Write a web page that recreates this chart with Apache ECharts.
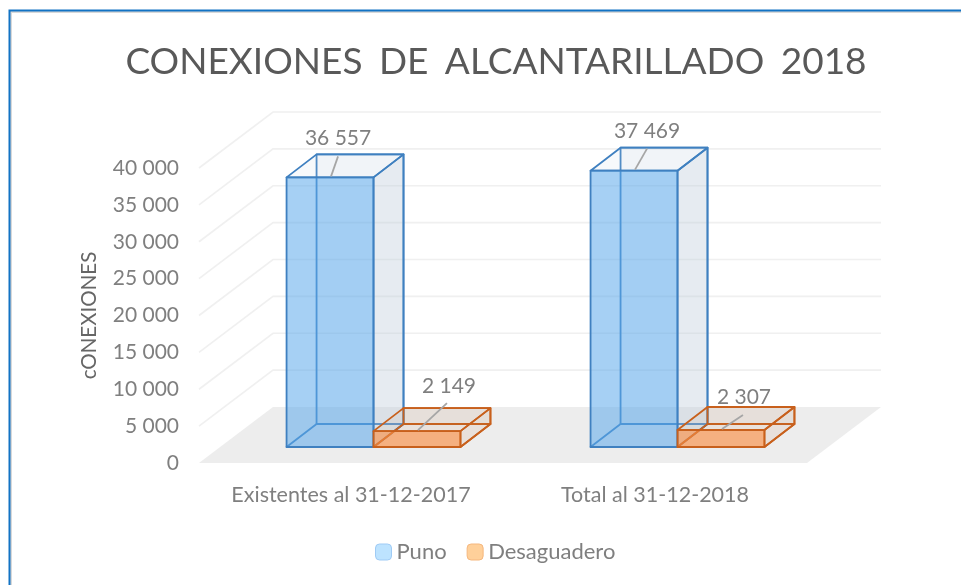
<!DOCTYPE html>
<html>
<head>
<meta charset="utf-8">
<style>
  html, body { margin: 0; padding: 0; background: #fff; }
  #chart { width: 961px; height: 585px; }
</style>
<script src="https://cdn.jsdelivr.net/npm/echarts@6/dist/echarts.min.js"></script>
</head>
<body>
<div id="chart"></div>
<script>
const categories = ['Existentes al 31-12-2017', 'Total al 31-12-2018'];
const puno = [36557, 37469];
const desaguadero = [2149, 2307];
const ticks = [0, 5000, 10000, 15000, 20000, 25000, 30000, 35000, 40000];

// depth of the fake 3d box
const WALL_DX = 74, WALL_DY = 56;
const PLANE_DX = 22.5, PLANE_DY = 16;
const BAR_DX = 30, BAR_DY = 23;
const BAR_WIDTH = 0.286; // share of a category band

// hand placed data labels, offset from top middle of the bar: [leader x, leader y, text x, text y]
const punoLabels = [[8, -21, 8, -39], [13, -22, 13, -39]];
const desaguaderoLabels = [[30, -28, 32, -45], [22, -15, 23, -33]];

const FONT = 'Lato, Carlito, sans-serif';
const GREY = '#7f7f7f';

function fmt(v) {
  return String(v).replace(/\B(?=(\d{3})+$)/g, ' ');
}

function renderWall(params, api) {
  const rect = params.coordSys;
  const y = api.coord([0, api.value(0)])[1];
  const x = rect.x;
  const children = [];
  if (api.value(0) === 0) {
    children.push({
      type: 'polygon',
      shape: { points: [[x, y], [x + WALL_DX, y - WALL_DY], [x + rect.width + WALL_DX, y - WALL_DY], [x + rect.width, y]] },
      style: { fill: '#ededed' }
    });
  } else {
    children.push({
      type: 'polyline',
      shape: { points: [[x, y], [x + WALL_DX, y - WALL_DY], [x + rect.width + WALL_DX, y - WALL_DY]] },
      style: { fill: 'none', stroke: '#f0f0f0', lineWidth: 1.6 }
    });
  }
  return { type: 'group', children };
}

function face(points, fill, stroke) {
  return { type: 'polygon', shape: { points }, style: { fill, stroke, lineWidth: 1.8, lineJoin: 'round' } };
}

function barRenderer(side, colors, labels) {
  return function (params, api) {
    const idx = api.value(0);
    const val = api.value(1);
    const base = api.coord([idx, 0]);
    const top = api.coord([idx, val]);
    const w = api.size([1, 0])[0] * BAR_WIDTH;
    const x0 = base[0] + PLANE_DX + (side < 0 ? -w : 0);
    const x1 = x0 + w;
    const y0 = base[1] - PLANE_DY;
    const y1 = top[1] - PLANE_DY;
    const dx = BAR_DX, dy = BAR_DY;
    const midX = (x0 + x1) / 2;
    const lab = labels[idx];
    const s = colors.stroke;
    return {
      type: 'group',
      children: [
        face([[x0 + dx, y0 - dy], [x1 + dx, y0 - dy], [x1 + dx, y1 - dy], [x0 + dx, y1 - dy]], colors.back, s),
        face([[x0, y0], [x1, y0], [x1 + dx, y0 - dy], [x0 + dx, y0 - dy]], colors.bottom, s),
        face([[x1, y0], [x1 + dx, y0 - dy], [x1 + dx, y1 - dy], [x1, y1]], colors.side, s),
        face([[x0, y1], [x1, y1], [x1 + dx, y1 - dy], [x0 + dx, y1 - dy]], colors.top, s),
        face([[x0, y0], [x1, y0], [x1, y1], [x0, y1]], colors.front, s),
        {
          type: 'line',
          shape: { x1: midX + 1, y1: y1 - 1, x2: midX + lab[0], y2: y1 + lab[1] },
          style: { stroke: '#a6a6a6', lineWidth: 1.8 }
        },
        {
          type: 'text',
          style: {
            x: midX + lab[2], y: y1 + lab[3], text: fmt(val),
            fill: GREY, font: '21px ' + FONT, textAlign: 'center', textVerticalAlign: 'middle'
          }
        }
      ]
    };
  };
}

const blue = {
  stroke: '#3f80c0',
  back: 'rgba(200,215,230,0.12)',
  bottom: 'rgba(82,150,220,0.01)',
  side: 'rgba(190,203,215,0.3)',
  top: 'rgba(200,215,230,0.14)',
  front: 'rgba(90,168,235,0.54)'
};
const orange = {
  stroke: '#c8601c',
  back: 'rgba(190,130,90,0.05)',
  bottom: 'rgba(240,150,90,0.03)',
  side: 'rgba(190,130,90,0.09)',
  top: 'rgba(190,130,90,0.07)',
  front: 'rgba(250,140,65,0.62)'
};

const chart = echarts.init(document.getElementById('chart'), null, { renderer: 'canvas' });
chart.setOption({
  animation: false,
  backgroundColor: '#fff',
  title: {
    text: 'CONEXIONES \u2009\u200aDE \u2009\u200aALCANTARILLADO \u2009\u200a2018',
    left: 491, top: 39, textAlign: 'center',
    textStyle: { fontFamily: FONT, fontSize: 37, fontWeight: 'normal', color: '#595959' }
  },
  legend: {
    bottom: 17, left: 370,
    itemWidth: 16, itemHeight: 16, itemGap: 20,
    selectedMode: false,
    textStyle: { fontFamily: FONT, fontSize: 22, color: GREY },
    data: [
      { name: 'Puno', icon: 'roundRect', itemStyle: { color: '#bde3ff', borderColor: '#9fcbf5', borderWidth: 1 } },
      { name: 'Desaguadero', icon: 'roundRect', itemStyle: { color: '#ffd09a', borderColor: '#f5b77e', borderWidth: 1 } }
    ]
  },
  grid: { left: 199, right: 154, top: 168, bottom: 122 },
  xAxis: {
    type: 'category',
    data: categories,
    axisLine: { show: false },
    axisTick: { show: false },
    splitLine: { show: false },
    axisLabel: { interval: 0, margin: 21, fontFamily: FONT, fontSize: 21.5, color: GREY }
  },
  yAxis: {
    type: 'value',
    min: 0, max: 40000, interval: 5000,
    name: 'cONEXIONES',
    nameLocation: 'center',
    nameGap: 99,
    nameTextStyle: { fontFamily: FONT, fontSize: 20.5, color: '#666666' },
    axisLine: { show: false },
    axisTick: { show: false },
    splitLine: { show: false },
    axisLabel: { margin: 20, fontFamily: FONT, fontSize: 21, color: GREY, formatter: fmt }
  },
  graphic: [
    { type: 'polyline', silent: true, z: -1, shape: { points: [[11, 585], [11, 12], [961, 12]] }, style: { fill: 'none', stroke: '#d9d9d9', lineWidth: 2 } },
    { type: 'polyline', silent: true, shape: { points: [[9.5, 585], [9.5, 10.5], [961, 10.5]] }, style: { fill: 'none', stroke: '#1273c4', lineWidth: 2 } }
  ],
  series: [
    {
      type: 'custom', name: 'walls', silent: true,
      data: ticks.map(t => [t]), encode: { y: 0 },
      renderItem: renderWall, z: 1
    },
    {
      type: 'custom', name: 'Puno', silent: true,
      data: puno.map((v, i) => [i, v]), encode: { x: 0, y: 1 },
      renderItem: barRenderer(-1, blue, punoLabels), z: 2
    },
    {
      type: 'custom', name: 'Desaguadero', silent: true,
      data: desaguadero.map((v, i) => [i, v]), encode: { x: 0, y: 1 },
      renderItem: barRenderer(1, orange, desaguaderoLabels), z: 3
    }
  ]
});
</script>
</body>
</html>
